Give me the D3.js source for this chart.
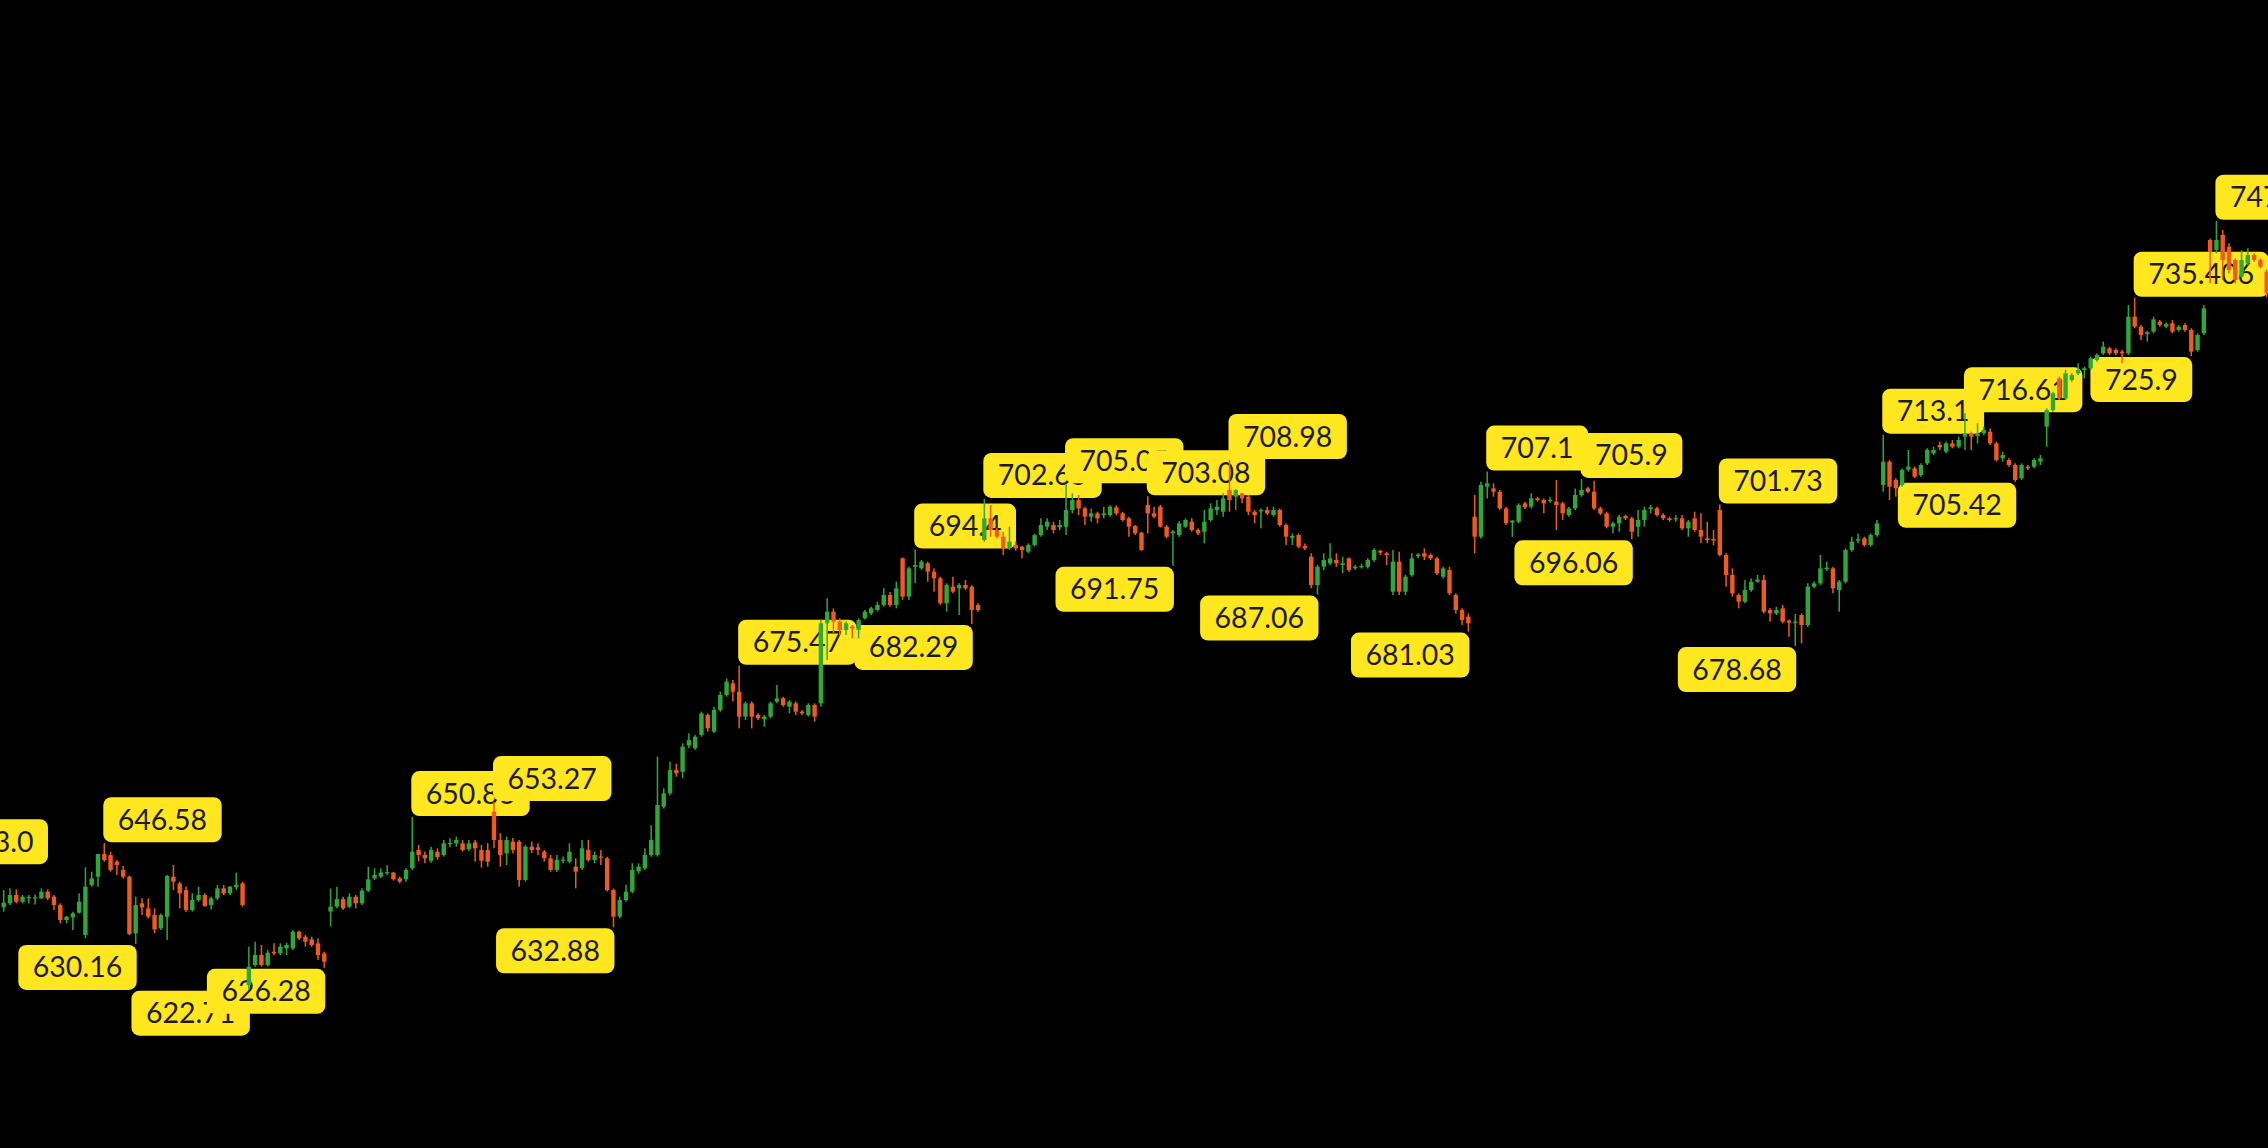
<!DOCTYPE html>
<html><head><meta charset="utf-8">
<script src="https://cdn.jsdelivr.net/npm/d3@7"></script>
<style>html,body{margin:0;padding:0;background:#000;overflow:hidden}</style>
</head><body>
<svg id="chart" width="2268" height="1148"></svg>
<script>
const opens = [
636.12,636.77,638.13,637.04,637.6,637.7,637.59,638.67,637.86,636.5,
634.06,634.49,635.25,631.62,639.76,641.12,644.81,644.64,643.56,642.2,
641.12,631.89,636.77,635.96,634.87,632.7,634.6,641.12,640.03,638.94,
635.69,637.32,638.13,636.5,637.59,639.22,638.40,639.4,640.03,623.47,
626.73,628.36,626.73,628.9,628.63,629.44,629.44,632.16,631.34,630.91,
630.26,628.63,635.45,636.23,637.45,636.23,637.86,636.78,638.84,640.85,
641.12,641.7,641.8,640.85,640.7,642.48,645.46,644.65,643.7,645.19,
644.65,646.5,646.55,646.55,645.6,646.7,645.46,645.46,651.71,647.09,
644.92,646.82,646.82,640.58,646.01,645.9,645.19,644.11,642.21,643.7,
643.56,642.75,642.48,645.46,643.84,644.4,644.11,638.95,634.61,637.32,
638.68,642.0,642.48,644.65,644.65,652.52,654.69,658.49,658.2,662.5,
662.02,664.2,667.45,664.74,668.27,670.71,672.61,671.25,667.18,669.35,
667.45,666.76,667.18,669.63,670.17,668.81,669.35,668.0,667.45,669.08,
669.35,682.38,684.28,682.66,681.3,681.84,681.3,683.2,684.01,684.55,
685.37,687.0,685.37,692.97,686.73,691.6,691.34,692.16,690.8,689.71,
685.64,688.35,688.08,688.63,688.35,685.37,695.95,699.48,697.58,696.49,
694.59,695.14,694.86,694.05,695.14,696.76,698.12,698.39,698.0,698.12,
700.83,702.46,701.1,699.75,700.29,700.0,700.02,701.27,700.29,699.48,
698.23,697.14,701.65,700.29,701.38,698.12,697.03,696.76,698.12,698.93,
697.58,697.3,699.21,700.83,700.56,704.09,703.01,703.55,703.01,700.56,
700.6,700.83,700.02,700.83,698.39,696.3,696.76,694.97,693.23,688.62,
691.6,692.15,692.69,691.88,692.96,691.33,691.6,691.6,692.69,694.2,
693.78,687.53,692.42,687.53,690.25,693.3,693.78,693.51,692.96,689.98,
691.06,686.99,684.55,683.46,699.75,696.49,704.64,704.36,703.82,701.1,
698.8,698.93,701.92,701.38,702.73,702.46,702.4,702.19,701.92,700.02,
701.1,703.28,704.36,703.82,701.1,700.29,698.12,698.66,699.86,699.48,
698.12,699.21,701.0,701.1,700.02,699.48,699.4,699.48,697.85,699.48,
697.58,696.22,696.1,700.83,693.51,690.25,686.99,685.91,687.8,689.16,
689.44,684.55,684.0,684.82,682.81,682.4,683.73,682.1,688.35,688.89,
691.2,691.33,687.8,689.16,694.32,695.85,696.22,695.14,696.76,704.91,
708.71,705.72,704.91,707.4,707.62,706.54,708.44,710.07,711.42,710.34,
711.69,711.15,712.78,713.32,712.9,713.32,713.59,711.69,709.25,708.98,
708.17,705.99,707.89,707.89,708.71,714.41,717.12,722.28,719.02,722.01,
723.1,723.64,723.91,725.27,726.35,727.17,726.9,726.63,726.35,732.32,
730.7,729.5,729.88,731.51,730.7,731.24,730.16,730.97,730.16,726.9,
729.61,744.81,743.18,745.63,743.73,741.55,738.84,740.99,742.37,741.55,739.65];

const highs = [
638.94,639.22,639.05,638.13,638.13,638.2,639.22,639.05,638.13,636.77,
634.71,635.42,638.40,642.64,641.93,644.81,646.58,645.19,643.83,642.85,
641.3,637.86,637.59,637.59,635.96,635.14,641.4,643.02,640.30,639.49,
638.40,639.49,638.40,637.86,639.76,639.76,639.60,641.77,640.30,629.72,
630.53,629.99,629.17,630.26,630.26,630.37,632.43,632.32,631.62,631.34,
631.07,628.90,639.2,639.49,637.86,638.41,638.14,639.22,642.75,642.48,
642.5,643.0,641.9,641.12,642.5,650.83,646.28,645.2,646.0,645.74,
647.09,647.37,647.64,647.09,647.09,647.09,646.28,646.55,653.27,648.2,
647.64,647.4,647.09,646.28,646.82,646.55,645.46,644.65,644.65,644.4,
646.55,644.1,647.09,647.09,645.19,645.46,644.38,639.2,637.86,639.8,
643.29,643.29,645.74,649.5,660.67,655.5,659.85,659.5,662.84,664.47,
664.2,668.0,667.72,668.81,671.25,673.42,673.15,675.47,669.63,669.63,
667.72,667.45,669.63,672.34,670.44,669.9,669.63,668.27,669.35,669.35,
683.0,686.45,684.82,683.2,682.66,682.1,683.2,684.55,685.1,685.9,
688.08,687.5,689.17,693.1,691.6,694.4,692.7,692.43,691.34,689.98,
688.9,689.98,688.9,689.44,688.6,685.64,702.65,701.65,697.9,697.3,
698.12,695.68,695.0,695.4,697.0,699.48,699.48,698.93,699.2,705.05,
703.55,703.28,701.38,701.1,700.56,701.38,701.6,701.6,700.56,699.75,
698.39,697.3,703.08,701.38,701.65,698.39,697.6,699.0,699.48,699.48,
697.85,700.83,701.92,702.46,703.55,708.98,704.2,703.6,703.3,700.83,
701.1,701.38,701.38,701.1,698.66,697.03,697.03,695.4,693.78,691.9,
693.78,695.41,693.78,693.23,693.1,691.9,692.1,692.96,694.59,694.32,
694.05,694.32,694.05,690.25,693.78,693.78,694.59,693.78,693.23,691.6,
691.6,687.26,684.82,684.0,703.28,705.45,707.1,705.18,704.09,701.38,
699.21,701.92,702.19,703.55,703.0,702.73,702.9,705.72,702.2,701.38,
704.36,705.9,704.64,705.6,701.38,700.56,698.93,700.02,700.1,699.75,
700.83,701.38,701.65,701.38,700.29,699.75,700.0,700.02,699.21,700.56,
700.29,698.93,697.58,701.73,693.78,691.33,687.26,689.44,689.7,690.25,
690.25,684.82,685.1,685.37,683.0,683.9,684.0,688.89,689.2,693.51,
692.42,691.6,689.44,694.59,696.49,697.03,696.5,697.03,699.21,713.1,
709.0,706.0,707.6,710.61,707.9,708.44,710.9,711.15,711.96,711.96,
712.24,712.78,716.61,713.6,714.96,714.4,714.13,711.96,710.34,709.25,
708.44,708.44,708.17,709.25,709.8,717.4,720.1,722.55,723.64,723.1,
724.73,724.2,725.81,726.35,728.25,727.44,727.17,726.9,734.22,735.406,
730.97,730.0,732.32,731.78,731.4,731.8,730.97,731.24,730.43,729.61,
734.22,745.0,747.95,746.44,744.27,741.82,743.18,743.45,742.64,741.82,740.0];

const lows = [
635.42,636.50,636.77,636.77,636.77,636.6,637.5,637.32,635.69,633.51,
633.51,632.43,635.14,631.07,639.49,639.49,643.56,641.93,641.39,640.84,
631.6,630.16,634.87,634.33,631.89,632.43,630.80,638.94,635.96,635.42,
635.42,637.04,636.23,635.79,637.32,638.13,638.13,639.0,636.23,622.71,
626.46,626.46,626.46,628.36,628.36,628.36,629.17,630.80,629.72,629.72,
627.54,626.28,633.0,635.96,635.69,636.0,635.96,636.5,638.6,640.58,
640.9,641.4,640.5,640.03,640.3,642.2,643.6,643.3,643.4,643.9,
644.4,645.9,646.0,645.2,645.3,643.56,642.6,642.75,645.74,642.75,
643.0,644.9,639.49,640.31,645.0,644.65,643.6,641.9,641.9,643.3,
643.3,639.22,642.2,643.56,643.3,643.02,638.7,632.88,634.34,637.05,
638.41,641.6,642.2,644.38,644.38,652.2,654.4,657.4,657.14,662.02,
661.8,663.9,664.74,664.5,667.99,670.44,669.63,665.28,666.64,665.28,
666.64,665.55,666.91,669.35,668.81,667.72,667.45,667.45,667.18,666.37,
668.8,676.41,680.76,680.5,680.48,679.94,679.94,683.0,683.7,684.3,
685.1,685.1,684.82,686.2,686.2,688.9,691.1,689.17,687.54,685.4,
684.28,687.3,683.74,687.8,682.29,684.28,695.68,696.49,696.2,693.5,
694.32,694.2,692.96,693.78,694.9,696.5,697.58,697.03,697.58,696.76,
700.29,700.0,698.39,698.93,698.66,699.48,699.75,700.0,698.93,696.49,
696.76,694.2,697.03,699.48,698.0,696.22,691.75,696.49,697.9,697.3,
696.76,695.41,698.93,700.02,699.75,700.56,700.83,701.92,700.02,698.66,
697.85,700.02,699.75,698.12,695.14,695.14,694.59,694.3,688.08,687.06,
691.06,691.88,691.6,690.52,690.79,691.1,691.3,691.33,692.42,693.51,
691.88,686.99,686.99,686.99,689.98,692.96,692.69,692.69,690.25,689.7,
686.99,684.0,682.1,681.03,693.78,696.2,702.73,703.0,700.83,698.39,
696.49,698.66,701.0,701.1,702.19,700.29,702.0,697.58,699.21,699.75,
700.83,703.0,703.55,700.83,700.02,697.85,697.03,697.3,699.21,696.06,
696.49,698.12,700.29,699.8,699.21,698.93,698.93,697.58,696.49,697.3,
695.41,695.41,695.14,693.3,688.35,686.72,684.82,685.64,687.53,689.0,
684.0,682.65,683.73,682.38,680.2,678.68,679.11,681.8,688.1,688.6,
690.9,687.26,684.28,688.9,694.05,695.41,694.9,694.86,696.5,703.82,
702.46,703.0,704.64,707.08,706.0,706.27,708.17,709.8,710.61,710.07,
710.88,710.88,710.61,710.61,711.69,713.0,711.42,708.71,708.71,707.9,
705.42,705.72,707.35,707.62,708.17,711.15,716.85,718.75,718.75,721.74,
722.82,722.28,723.64,725.0,726.08,726.08,726.08,724.73,726.08,730.43,
728.52,728.25,729.61,730.7,730.43,729.61,729.88,729.88,725.9,726.63,
729.34,737.75,742.64,738.3,739.38,737.75,738.57,740.72,741.28,740.2,735.5];

const closes = [
636.88,638.13,637.04,637.86,637.8,637.75,638.67,637.59,636.50,634.06,
634.6,635.14,637.04,639.49,640.84,644.81,643.83,642.2,643.02,641.12,
631.78,636.50,636.12,634.6,632.54,634.87,641.22,640.30,638.40,635.69,
637.32,638.13,636.34,637.59,639.22,638.40,639.49,639.76,636.50,626.46,
628.36,626.73,628.74,628.63,629.72,629.99,632.16,631.07,630.53,629.99,
628.36,627.27,636.23,637.45,635.96,637.86,636.78,638.84,640.69,641.39,
641.8,641.85,640.7,640.31,642.21,645.19,644.65,644.11,645.46,644.3,
646.55,646.6,647.09,645.46,646.55,645.74,643.7,643.56,647.09,644.65,
647.09,645.46,640.58,646.01,645.46,645.5,644.11,642.21,643.84,643.9,
645.19,641.94,645.74,643.84,644.65,644.2,638.95,634.61,637.32,638.68,
642.21,642.75,644.65,647.09,652.79,654.69,658.49,657.95,662.29,663.36,
663.92,667.72,665.28,668.27,670.71,672.88,671.25,667.18,669.35,667.18,
666.91,667.18,669.35,670.17,669.08,669.63,668.0,667.72,669.08,667.18,
682.38,684.28,682.66,681.3,682.38,681.57,682.93,684.28,684.82,685.37,
687.0,685.37,688.08,686.73,691.34,691.88,692.43,690.8,689.71,685.64,
688.63,687.54,688.63,688.08,684.55,684.55,699.48,697.58,696.49,694.59,
695.68,694.59,694.32,695.14,696.76,698.39,698.93,697.58,698.4,700.83,
702.46,701.1,699.75,700.29,699.48,700.29,701.38,700.29,699.21,698.12,
697.03,694.32,700.29,699.75,698.12,696.49,697.35,698.66,699.21,697.58,
697.03,698.93,701.1,701.38,702.73,702.46,704.09,702.73,700.56,700.02,
700.83,700.29,700.83,698.39,696.49,696.6,694.86,694.59,688.62,691.6,
692.69,692.96,692.15,692.15,691.06,691.6,691.7,692.69,694.32,693.9,
693.51,692.42,687.53,689.98,692.96,693.6,693.23,692.96,690.52,691.33,
687.26,684.55,682.92,682.38,696.49,704.91,705.18,703.82,701.1,698.66,
699.1,701.65,701.27,702.73,702.46,701.92,702.5,701.65,700.29,701.1,
703.28,704.09,703.82,701.1,700.29,698.12,698.66,699.75,699.48,697.3,
699.21,700.83,701.27,700.02,699.48,699.21,699.5,697.85,698.93,697.58,
696.49,695.95,695.85,693.51,690.25,687.26,685.91,687.8,689.16,689.5,
684.28,684.0,684.55,682.65,682.5,682.65,682.1,688.35,688.89,691.33,
691.45,688.08,689.16,694.32,695.68,696.1,695.14,696.76,698.66,708.71,
704.64,704.36,707.35,707.9,706.27,708.17,710.61,710.61,711.04,711.69,
711.15,712.24,713.32,712.78,713.3,713.86,711.69,708.98,709.8,708.17,
705.72,708.17,707.62,708.98,709.25,717.12,719.84,719.02,723.1,722.82,
723.64,723.91,725.54,726.08,727.44,726.35,726.35,726.35,732.32,730.7,
729.34,729.8,731.89,730.97,731.13,729.88,730.7,730.16,726.63,729.34,
733.68,742.91,744.81,741.55,739.92,738.3,741.55,742.37,741.55,740.47,736.13];

const labelIndex = [-9,16,21,39,51,65,78,97,117,145,154,156,169,182,186,195,209,233,236,251,259,273,285,299,312,320,339,348,352];
const labelText = ["643.0","646.58","630.16","622.71","626.28","650.83","653.27","632.88","675.47","694.4","682.29","702.65","705.05","703.08","691.75","708.98","687.06","681.03","707.1","705.9","696.06","701.73","678.68","713.1","716.61","705.42","735.406","725.9","747.95"];
const labelSide = ["high","high","low","low","low","high","high","low","high","high","low","high","high","high","low","high","low","low","high","high","low","high","low","high","high","low","high","low","high"];

const W = 2268, H = 1148;
const UP = "#2fa83a", DOWN = "#f05a1e";
const svg = d3.select("#chart");
svg.append("rect").attr("width", W).attr("height", H).attr("fill", "#000");

const n = closes.length;
const x = d3.scaleLinear().domain([0, 360]).range([3.7, 2266.7]);
const y = d3.scaleLinear().domain([596.93, 783.90]).range([H, 0]);
const step = x(1) - x(0);
const bodyW = step * 0.7;

// labels (drawn first, later ones on top; candles drawn over them)
const lg = svg.append("g").attr("class", "labels");
labelIndex.forEach((idx, k) => {
  const price = +labelText[k];
  const g = lg.append("g");
  const rect = g.append("rect");
  const t = g.append("text").text(labelText[k])
    .attr("font-family", "Lato, 'Open Sans', sans-serif")
    .attr("font-size", 28.5)
    .attr("fill", "#1c1c1c");
  const tw = t.node().getComputedTextLength();
  const pad = 14.5;
  const bw = tw + pad * 2, bh = 45;
  const cx = x(idx);
  const left = labelSide[k] === "high" ? cx - 1 : cx - bw + 1;
  const top = labelSide[k] === "high" ? y(price) - bh - 1 : y(price) + 1;
  rect.attr("x", left).attr("y", top).attr("width", bw).attr("height", bh)
    .attr("rx", 8).attr("fill", "#ffe71f");
  t.attr("x", left + pad).attr("y", top + 32.5);
});

// candles
const data = d3.range(n).map(i => ({i, o: opens[i], h: highs[i], l: lows[i], c: closes[i]}));
const cg = svg.append("g").attr("class", "candles");
const c = cg.selectAll("g").data(data).join("g");
c.append("line")
  .attr("x1", d => x(d.i)).attr("x2", d => x(d.i))
  .attr("y1", d => y(d.h)).attr("y2", d => y(d.l))
  .attr("stroke", d => d.c >= d.o ? UP : DOWN)
  .attr("stroke-width", 1.5);
c.append("rect")
  .attr("x", d => x(d.i) - bodyW / 2)
  .attr("width", bodyW)
  .attr("y", d => y(Math.max(d.o, d.c)))
  .attr("height", d => Math.max(1.2, Math.abs(y(d.o) - y(d.c))))
  .attr("fill", d => d.c >= d.o ? UP : DOWN);
</script>
</body></html>
